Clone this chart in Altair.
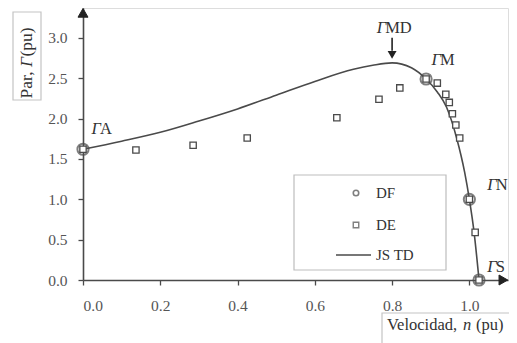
import altair as alt
import pandas as pd

# ---- data ----
curve_n = [0.0, 0.1, 0.2, 0.3, 0.4, 0.5, 0.6, 0.7, 0.75, 0.8, 0.85, 0.888, 0.917, 0.941, 0.967, 0.988, 1.0, 1.012, 1.025]
curve_t = [1.62, 1.72, 1.83, 1.97, 2.12, 2.29, 2.46, 2.61, 2.66, 2.69, 2.63, 2.49, 2.33, 2.14, 1.76, 1.33, 1.0, 0.6, 0.0]

df_n = [0.0, 0.888, 1.0, 1.025]
df_t = [1.62, 2.49, 1.0, 0.0]

de_n = [0.0, 0.137, 0.285, 0.425, 0.657, 0.766, 0.82, 0.888, 0.917, 0.939, 0.948, 0.956, 0.965, 0.975, 1.0, 1.015, 1.025]
de_t = [1.62, 1.61, 1.67, 1.76, 2.01, 2.24, 2.38, 2.49, 2.44, 2.30, 2.20, 2.06, 1.92, 1.76, 1.0, 0.59, 0.0]

ann_text = ["A", "MD", "M", "N", "S"]
ann_n = [0.044, 0.782, 0.924, 1.068, 1.068]
ann_t = [1.87, 3.12, 2.73, 1.18, 0.16]

x_ticks = [0.0, 0.2, 0.4, 0.6, 0.8, 1.0]
y_ticks = [0.0, 0.5, 1.0, 1.5, 2.0, 2.5, 3.0]

legend_names = ["DF", "DE", "JS TD"]

X_MAX = 1.1
Y_MAX = 3.37
FONT = "Liberation Serif, Times New Roman, serif"
INK = "#4a4a4a"

curve = pd.DataFrame({"n": curve_n, "t": curve_t})
dfp = pd.DataFrame({"n": df_n, "t": df_t})
dep = pd.DataFrame({"n": de_n, "t": de_t})
ann = pd.DataFrame({"n": ann_n, "t": ann_t, "s": ann_text})

xs = alt.Scale(domain=[0, X_MAX], nice=False, zero=False)
ys = alt.Scale(domain=[0, Y_MAX], nice=False, zero=False)

axis_common = dict(
    labelFont=FONT, labelFontSize=15.5, labelColor="#555", domainColor=INK,
    domainWidth=1.6, tickColor=INK, tickWidth=1.3, tickSize=5, grid=False,
    format=".1f", title=None,
)

X = alt.X("n:Q", scale=xs, axis=alt.Axis(values=x_ticks, labelPadding=13, **axis_common))
Y = alt.Y("t:Q", scale=ys, axis=alt.Axis(values=y_ticks, labelPadding=11, **axis_common))

line = alt.Chart(curve).mark_line(color=INK, strokeWidth=1.6, interpolate="monotone").encode(x=X, y=Y)

rings = alt.Chart(dfp).mark_point(shape="circle", size=125, color=INK, strokeWidth=2.0, filled=False).encode(
    x=alt.X("n:Q", scale=xs), y=alt.Y("t:Q", scale=ys))
squares = alt.Chart(dep).mark_point(shape="square", size=40, color=INK, strokeWidth=1.3, fill="white", filled=False, opacity=1, fillOpacity=1).encode(
    x=alt.X("n:Q", scale=xs), y=alt.Y("t:Q", scale=ys))

# axis arrowheads (centres set a few pixels inside the axis ends)
head_n = [X_MAX - 0.012, 0.0]
head_t = [0.0, Y_MAX - 0.06]
heads = pd.DataFrame({"n": head_n, "t": head_t})
heads_x = alt.Chart(heads.iloc[[0]]).mark_point(shape="triangle-right", size=100, fill="#222", stroke="#222", strokeWidth=1, filled=True, opacity=1, fillOpacity=1).encode(
    x=alt.X("n:Q", scale=xs), y=alt.Y("t:Q", scale=ys))
heads_y = alt.Chart(heads.iloc[[1]]).mark_point(shape="triangle-up", size=100, fill="#222", stroke="#222", strokeWidth=1, filled=True, opacity=1, fillOpacity=1).encode(
    x=alt.X("n:Q", scale=xs), y=alt.Y("t:Q", scale=ys))

# annotation labels: italic Gamma + upright suffix
gam = alt.Chart(ann).mark_text(font=FONT, fontSize=16.5, fontStyle="italic", color="#333", align="right", baseline="middle", dx=1).encode(
    x=alt.X("n:Q", scale=xs), y=alt.Y("t:Q", scale=ys), text=alt.value("Γ"))
suf = alt.Chart(ann).mark_text(font=FONT, fontSize=16.5, color="#333", align="left", baseline="middle", dx=0).encode(
    x=alt.X("n:Q", scale=xs), y=alt.Y("t:Q", scale=ys), text="s:N")

# Gamma_MD arrow
md = pd.DataFrame({"n": [0.8], "t1": [3.0], "t2": [2.84], "th": [2.79]})
md_shaft = alt.Chart(md).mark_rule(color="#222", strokeWidth=1.6).encode(
    x=alt.X("n:Q", scale=xs), y=alt.Y("t1:Q", scale=ys), y2="t2:Q")
md_head = alt.Chart(md).mark_point(shape="triangle-down", filled=True, size=80, color="#222", opacity=1).encode(
    x=alt.X("n:Q", scale=xs), y=alt.Y("th:Q", scale=ys))

# legend (pixel positions within plot area)
leg_box = alt.Chart(pd.DataFrame({"a": [0]})).mark_rect(fill="white", stroke="#bdbdbd", strokeWidth=1.2).encode(
    x=alt.value(211), x2=alt.value(363), y=alt.value(167), y2=alt.value(262))
leg_df = pd.DataFrame({"name": legend_names, "ly": [185, 217, 247]})
leg_c = alt.Chart(leg_df.iloc[[0]]).mark_point(shape="circle", size=30, color=INK, strokeWidth=1.6, filled=False).encode(
    x=alt.value(273), y=alt.Y("ly:Q", scale=None))
leg_s = alt.Chart(leg_df.iloc[[1]]).mark_point(shape="square", size=30, color=INK, strokeWidth=1.4, filled=False).encode(
    x=alt.value(273), y=alt.Y("ly:Q", scale=None))
leg_l = alt.Chart(leg_df.iloc[[2]]).mark_rule(color=INK, strokeWidth=1.6).encode(
    x=alt.value(253), x2=alt.value(288), y=alt.Y("ly:Q", scale=None))
leg_t = alt.Chart(leg_df).mark_text(font=FONT, fontSize=15, color="#333", align="left", baseline="middle").encode(
    x=alt.value(293), y=alt.Y("ly:Q", scale=None), text="name:N")

# axis titles in boxes
ytbox = alt.Chart(pd.DataFrame({"a": [0]})).mark_rect(fill="white", stroke="#c4c4c4", strokeWidth=1.2).encode(
    x=alt.value(-70), x2=alt.value(-42), y=alt.value(4), y2=alt.value(92))
yt_parts = [("Par,", 77, "normal"), ("Γ", 54, "italic"), ("(pu)", 34, "normal")]
ytl = []
for txt, py, style in yt_parts:
    ytl.append(alt.Chart(pd.DataFrame({"a": [0]})).mark_text(font=FONT, fontSize=17.5, fontStyle=style, color="#333", angle=270, align="center", baseline="middle").encode(
        x=alt.value(-56), y=alt.value(py), text=alt.value(txt)))

xtbox = alt.Chart(pd.DataFrame({"a": [0]})).mark_rect(fill="white", stroke="#c4c4c4", strokeWidth=1.2).encode(
    x=alt.value(299), x2=alt.value(440), y=alt.value(305), y2=alt.value(340))
xt_parts = [("Velocidad,", 304, "normal"), ("n", 380, "italic"), ("(pu)", 393, "normal")]
xtl = []
for txt, px, style in xt_parts:
    xtl.append(alt.Chart(pd.DataFrame({"a": [0]})).mark_text(font=FONT, fontSize=16.5, fontStyle=style, color="#333", align="left", baseline="middle").encode(
        x=alt.value(px), y=alt.value(317), text=alt.value(txt)))

chart = alt.layer(
    line, squares, rings, heads_x, heads_y, gam, suf, md_shaft, md_head,
    leg_box, leg_c, leg_s, leg_l, leg_t,
    ytbox, *ytl, xtbox, *xtl,
).properties(
    width=425, height=272,
    autosize=alt.AutoSizeParams(type="none"),
    padding={"left": 75, "top": 0, "right": 1, "bottom": 63},
).configure_view(stroke=None).configure(background="white")

chart.save("out.html", embed_options={"renderer": "svg", "actions": False})
